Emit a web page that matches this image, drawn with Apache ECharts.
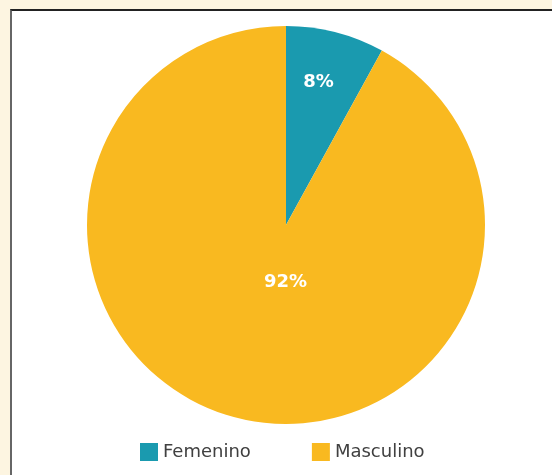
<!DOCTYPE html>
<html>
<head>
<meta charset="utf-8">
<script src="https://cdn.jsdelivr.net/npm/echarts@6/dist/echarts.min.js"></script>
<style>
  html, body { margin: 0; padding: 0; background: #fdf5e1; }
  #frame {
    position: absolute; left: 10px; top: 9px; width: 560px; height: 480px;
    background: #ffffff; border-top: 2px solid #222; border-left: 2px solid #666;
  }
  #chart { position: absolute; left: 0; top: 0; width: 552px; height: 475px; }
</style>
</head>
<body>
<div id="frame"></div>
<div id="chart"></div>
<script>
  const categories = ["Femenino", "Masculino"];
  const values = [8, 92];
  const colors = ["#1a9aaf", "#f9b920"];
  // label shifts from the default inside position
  const labelShift = [[7, -43], [25, -42]];

  const myChart = echarts.init(document.getElementById("chart"));
  const config = {
    backgroundColor: "transparent",
    legend: {
      bottom: 9,
      left: 135,
      itemWidth: 18,
      itemHeight: 18,
      itemGap: 61,
      icon: "rect",
      textStyle: { fontFamily: "DejaVu Sans", fontSize: 18, color: "#404040" },
      data: categories,
    },
    series: [
      {
        type: "pie",
        center: [286, 225],
        radius: 199,
        startAngle: 90,
        clockwise: true,
        silent: true,
        data: categories.map((name, i) => ({
          name: name,
          value: values[i],
          itemStyle: { color: colors[i] },
        })),
        label: {
          show: true,
          position: "inside",
          formatter: "{c}%",
          color: "#ffffff",
          fontFamily: "DejaVu Sans",
          fontWeight: "bold",
          fontSize: 18,
        },
        labelLine: { show: false },
        labelLayout: function (params) {
          const s = labelShift[params.dataIndex];
          return { dx: s[0], dy: s[1] };
        },
      },
    ],
  };
  myChart.setOption(config);
</script>
</body>
</html>
